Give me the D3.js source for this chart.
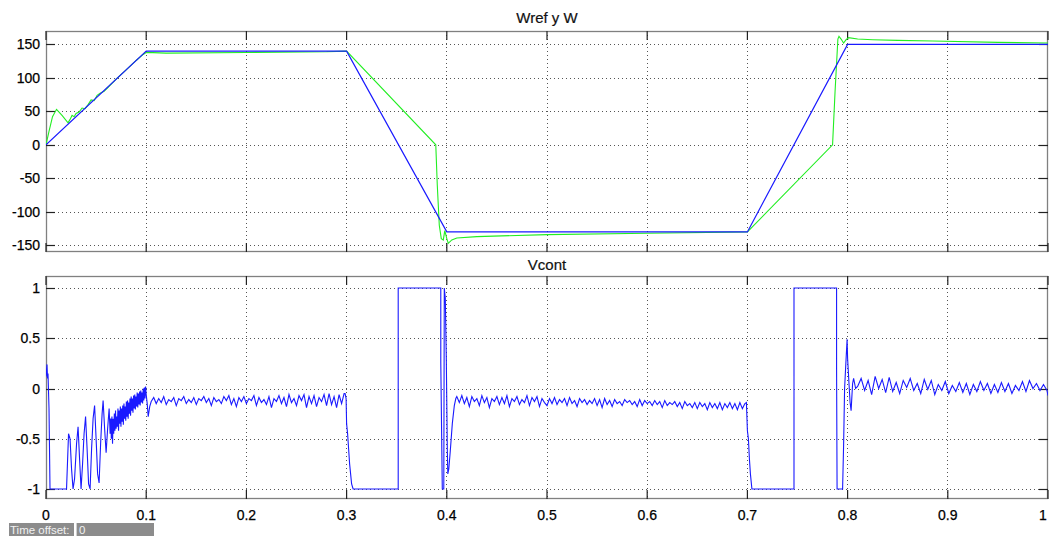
<!DOCTYPE html>
<html>
<head>
<meta charset="utf-8">
<script src="https://cdn.jsdelivr.net/npm/d3@7/dist/d3.min.js"></script>
<style>
  html, body { margin: 0; padding: 0; background: #ffffff; }
  svg { display: block; }
  text { font-family: "Liberation Sans", Arial, sans-serif; }
</style>
</head>
<body>
<svg id="chart" width="1049" height="536"></svg>
<script>
// ---- Speed reference (Wref) and measured speed (W) ----
const wrefPoints = [[0,0],[0.1,140],[0.3,140],[0.4,-130],[0.7,-130],[0.8,150],[1,150]];

const wPoints = [
  [0,0],[0.003,20],[0.0065,42],[0.0105,53],[0.016,44],[0.022,33],[0.024,38],[0.026,44],
  [0.028,42],[0.03,47],[0.033,49],[0.036,55],[0.039,54],[0.042,60],[0.045,67],[0.048,66],
  [0.051,74],[0.054,77],[0.058,80],[0.062,86],[0.07,98],[0.08,112],[0.09,126],[0.097,135],
  [0.1,138],[0.12,137],[0.2,138],[0.28,139],[0.3,140],[0.389,0],[0.3905,-60],[0.3925,-120],
  [0.3945,-140],[0.3965,-142],[0.398,-128],[0.4,-140],[0.4015,-147],[0.405,-142],[0.41,-139],
  [0.43,-137],[0.5,-134],[0.6,-132],[0.7,-130],[0.785,0],[0.7875,80],[0.7903,158],[0.7914,162],
  [0.7935,158],[0.796,152],[0.7985,157],[0.8009,160],[0.81,158],[0.825,157],[0.85,156],
  [0.885,155],[0.95,153],[1,152]
];

// ---- Control voltage (Vcont): start-up and switching intervals as [t, v] pairs ----
const vcontStart = [
  [0,0.12],[0.001,0.24],[0.0015,0.1],[0.002,0.15],[0.003,-0.2],[0.004,-1],[0.0205,-1],
  [0.0225,-0.45],[0.024,-0.5],[0.0255,-0.8],[0.027,-1],[0.0285,-0.9],[0.0305,-0.55],[0.032,-0.38],
  [0.0335,-0.7],[0.035,-1],[0.0365,-0.75],[0.038,-0.45],[0.0395,-0.28],[0.041,-0.6],[0.0425,-0.95],
  [0.044,-1],[0.0455,-0.6],[0.047,-0.3],[0.0485,-0.17],[0.05,-0.5],[0.0515,-0.85],[0.053,-0.94],
  [0.0545,-0.55],[0.056,-0.25],[0.057,-0.12],[0.0585,-0.4],[0.06,-0.64],[0.0615,-0.4],[0.063,-0.2],
  [0.064,-0.45],[0.0646,-0.3],[0.0652,-0.5],[0.0658,-0.28],[0.0664,-0.55],[0.067,-0.3],[0.0676,-0.45],
  [0.0682,-0.25],[0.0688,-0.42],[0.0694,-0.22],[0.07,-0.4],[0.0706,-0.28],[0.0712,-0.38],[0.0718,-0.2],
  [0.0724,-0.42],[0.073,-0.22],[0.0736,-0.35],[0.0742,-0.18],[0.0748,-0.38],[0.0754,-0.2],[0.076,-0.33],
  [0.0766,-0.17],[0.0772,-0.36],[0.0778,-0.15],[0.0784,-0.3],[0.079,-0.18],[0.0796,-0.32],[0.0802,-0.13],
  [0.0808,-0.28],[0.0814,-0.12],[0.082,-0.3],[0.0826,-0.14],[0.0832,-0.25],[0.0838,-0.1],[0.0844,-0.27],
  [0.085,-0.08],[0.0856,-0.22],[0.0862,-0.1],[0.0868,-0.24],[0.0874,-0.07],[0.088,-0.2],[0.0886,-0.06],
  [0.0892,-0.21],[0.0898,-0.08],[0.0904,-0.18],[0.091,-0.04],[0.0916,-0.19],[0.0922,-0.05],[0.0928,-0.16],
  [0.0934,-0.03],[0.094,-0.17],[0.0946,-0.02],[0.0952,-0.14],[0.0958,-0.04],[0.0964,-0.15],[0.097,0],
  [0.0976,-0.12],[0.0982,0.01],[0.0988,-0.1],[0.0994,0.02],[0.1,-0.06],
  [0.101,-0.15],[0.102,-0.28],[0.1035,-0.18]
];

const vcontReverse1 = [
  [0.2985,-0.05],[0.2995,-0.1],[0.3,-0.35],[0.301,-0.45],[0.302,-0.6],[0.303,-0.75],[0.304,-0.85],
  [0.305,-0.95],[0.3065,-1],[0.3515,-1],[0.3515,1],[0.394,1],[0.394,0.26],[0.3955,-1],[0.397,-1],
  [0.3975,1],[0.3985,0.9],[0.3995,0.3],[0.4005,-0.6],[0.401,-0.85],[0.402,-0.8],[0.4035,-0.62],
  [0.4055,-0.35],[0.4075,-0.17],[0.409,-0.1]
];

const vcontReverse2 = [
  [0.699,-0.14],[0.7,-0.42],[0.701,-0.5],[0.702,-0.7],[0.703,-0.85],[0.7045,-1],[0.7465,-1],
  [0.7465,1],[0.789,1],[0.789,0.2],[0.7895,-1],[0.795,-1],[0.796,-0.57],[0.797,0],[0.798,0.2],
  [0.7995,0.49],[0.8,0.3],[0.8015,0.03],[0.8025,-0.14],[0.8035,-0.22],[0.805,0.05],[0.806,0.1],
  [0.808,0]
];

// ---- Vcont steady-state ripple, sampled at a fixed period ----
const rippleA = { t0: 0.105, dt: 0.0025, v: [
  -0.13,-0.09,-0.15,-0.10,-0.14,-0.08,-0.16,-0.11,-0.13,-0.09,
  -0.17,-0.10,-0.12,-0.08,-0.15,-0.11,-0.14,-0.09,-0.16,-0.10,
  -0.12,-0.08,-0.14,-0.10,-0.17,-0.09,-0.13,-0.11,-0.15,-0.08,
  -0.12,-0.07,-0.16,-0.10,-0.18,-0.09,-0.13,-0.08,-0.15,-0.10,
  -0.12,-0.07,-0.17,-0.09,-0.14,-0.11,-0.16,-0.08,-0.19,-0.10,
  -0.13,-0.07,-0.15,-0.09,-0.18,-0.06,-0.14,-0.10,-0.17,-0.07,
  -0.12,-0.06,-0.19,-0.08,-0.15,-0.07,-0.18,-0.09,-0.13,-0.06,
  -0.17,-0.05,-0.16,-0.08,-0.19,-0.06,-0.15,-0.05
]};

const rippleB = { t0: 0.41, dt: 0.0025, v: [
  -0.08,-0.14,-0.07,-0.15,-0.09,-0.18,-0.08,-0.13,-0.10,-0.17,
  -0.07,-0.14,-0.09,-0.19,-0.10,-0.13,-0.08,-0.16,-0.09,-0.15,
  -0.07,-0.18,-0.10,-0.13,-0.08,-0.16,-0.11,-0.14,-0.07,-0.17,
  -0.09,-0.13,-0.08,-0.18,-0.10,-0.14,
  -0.17,-0.10,-0.15,-0.09,-0.16,-0.11,-0.14,-0.10,-0.17,-0.09,
  -0.15,-0.12,-0.18,-0.10,-0.14,-0.11,-0.16,-0.12,-0.15,-0.10,
  -0.17,-0.11,-0.19,-0.10,-0.16,-0.12,-0.18,-0.11,-0.15,-0.13,
  -0.17,-0.11,-0.14,-0.12,-0.16,-0.13,-0.18,-0.11,-0.17,-0.12,
  -0.15,-0.13,-0.17,-0.12,-0.16,-0.13,-0.19,-0.12,-0.17,-0.14,
  -0.16,-0.13,-0.18,-0.14,-0.20,-0.13,-0.17,-0.15,-0.19,-0.14,
  -0.20,-0.14,-0.18,-0.15,-0.21,-0.14,-0.19,-0.15,-0.20,-0.14,
  -0.21,-0.15,-0.19,-0.14,-0.20,-0.15,-0.21,-0.14,-0.20,-0.15
]};

const rippleC = { t0: 0.81, dt: 0.0035, v: [
  0.02,0.10,-0.02,0.08,-0.06,0.12,0.00,0.09,-0.04,0.11,
  -0.03,0.06,-0.05,0.08,0.01,0.10,-0.02,0.05,-0.05,0.09,
  -0.01,0.08,-0.06,0.04,-0.02,0.07,-0.05,0.03,-0.03,0.06,
  -0.04,0.05,-0.06,0.04,-0.03,0.07,-0.02,0.05,-0.05,0.04,
  -0.04,0.06,-0.03,0.05,-0.05,0.03,-0.02,0.07,-0.03,0.08,
  0.00,0.05,-0.02,0.04
]};
const vcontEnd = [[0.999,-0.02],[1,-0.07]];

// ---- Tick labels ----
const timeTicks = [0,0.1,0.2,0.3,0.4,0.5,0.6,0.7,0.8,0.9,1];
const timeTickLabels = ["0","0.1","0.2","0.3","0.4","0.5","0.6","0.7","0.8","0.9","1"];
const speedTicks = [-150,-100,-50,0,50,100,150];
const vcontTicks = [-1,-0.5,0,0.5,1];
const vcontTickLabels = ["-1","-0.5","0","0.5","1"];

// ---- Assemble the Vcont trace in time order ----
function sampled(r) { return r.v.map((v, i) => [r.t0 + i * r.dt, v]); }
const vcontPoints = [].concat(
  vcontStart, sampled(rippleA), vcontReverse1, sampled(rippleB),
  vcontReverse2, sampled(rippleC), vcontEnd
);

// ---- Layout ----
const W = 1049;
const svg = d3.select("#chart");
const left = 46, right = 1048;
const x = d3.scaleLinear().domain([0, 1]).range([left, right]);

const panels = [
  { id: "w", title: "Wref y W", top: 31, bottom: 252, domain: [-160, 170],
    ticks: speedTicks, labels: speedTicks.map(String), titleY: 23 },
  { id: "v", title: "Vcont", top: 276, bottom: 499, domain: [-1.1, 1.12],
    ticks: vcontTicks, labels: vcontTickLabels, titleY: 270 }
];

panels.forEach(p => {
  p.y = d3.scaleLinear().domain(p.domain).range([p.bottom, p.top]);
  const g = svg.append("g");

  // clip region for the traces
  svg.append("clipPath").attr("id", "clip-" + p.id)
    .append("rect").attr("x", left).attr("y", p.top)
    .attr("width", right - left).attr("height", p.bottom - p.top);

  // dotted grid
  g.selectAll(".gx").data(timeTicks.slice(1, -1)).enter().append("line")
    .attr("x1", d => x(d)).attr("x2", d => x(d))
    .attr("y1", p.top).attr("y2", p.bottom)
    .attr("stroke", "#555").attr("stroke-width", 1).attr("stroke-dasharray", "1,3")
    .attr("shape-rendering", "crispEdges");
  g.selectAll(".gy").data(p.ticks).enter().append("line")
    .attr("x1", left).attr("x2", right)
    .attr("y1", d => Math.round(p.y(d)) + 0.5).attr("y2", d => Math.round(p.y(d)) + 0.5)
    .attr("stroke", "#555").attr("stroke-width", 1).attr("stroke-dasharray", "1,3");

  // frame
  g.append("rect").attr("x", left + 0.5).attr("y", p.top + 0.5)
    .attr("width", right - left - 1).attr("height", p.bottom - p.top - 1)
    .attr("fill", "none").attr("stroke", "#808080").attr("stroke-width", 1.3);

  // inward ticks on all four sides
  const tl = 9;
  g.selectAll(".tl").data(p.ticks).enter().append("line")
    .attr("x1", left).attr("x2", left + tl)
    .attr("y1", d => Math.round(p.y(d)) + 0.5).attr("y2", d => Math.round(p.y(d)) + 0.5)
    .attr("stroke", "#222").attr("stroke-width", 1.2);
  g.selectAll(".tr").data(p.ticks).enter().append("line")
    .attr("x1", right - tl).attr("x2", right)
    .attr("y1", d => Math.round(p.y(d)) + 0.5).attr("y2", d => Math.round(p.y(d)) + 0.5)
    .attr("stroke", "#222").attr("stroke-width", 1.2);
  g.selectAll(".tt").data(timeTicks).enter().append("line")
    .attr("x1", d => x(d)).attr("x2", d => x(d))
    .attr("y1", p.top).attr("y2", p.top + tl)
    .attr("stroke", "#222").attr("stroke-width", 1.2);
  g.selectAll(".tb").data(timeTicks).enter().append("line")
    .attr("x1", d => x(d)).attr("x2", d => x(d))
    .attr("y1", p.bottom - tl).attr("y2", p.bottom)
    .attr("stroke", "#222").attr("stroke-width", 1.2);

  // y tick labels
  g.selectAll(".yl").data(p.ticks).enter().append("text")
    .attr("x", 40).attr("y", d => p.y(d) + 5)
    .attr("text-anchor", "end").attr("font-size", 14).attr("fill", "#000")
    .attr("stroke", "#000").attr("stroke-width", 0.25)
    .text((d, i) => p.labels[i]);

  // panel title
  g.append("text").attr("x", (left + right) / 2).attr("y", p.titleY)
    .attr("text-anchor", "middle").attr("font-size", 15).attr("fill", "#111")
    .attr("stroke", "#111").attr("stroke-width", 0.2)
    .text(p.title);
});

// time axis labels under the lower panel; the last one is kept inside the page edge
svg.append("g").selectAll("text").data(timeTicks).enter().append("text")
  .attr("x", d => Math.min(x(d), W - 6)).attr("y", 520)
  .attr("text-anchor", "middle").attr("font-size", 14).attr("fill", "#000")
  .attr("stroke", "#000").attr("stroke-width", 0.25)
  .text((d, i) => timeTickLabels[i]);

// ---- Traces ----
const pw = panels[0], pv = panels[1];
const lineW = d3.line().x(d => x(d[0])).y(d => pw.y(d[1]));
const lineV = d3.line().x(d => x(d[0])).y(d => pv.y(d[1]));

svg.append("path").datum(wPoints).attr("d", lineW)
  .attr("clip-path", "url(#clip-w)")
  .attr("fill", "none").attr("stroke", "#22ee22").attr("stroke-width", 1.1);
svg.append("path").datum(wrefPoints).attr("d", lineW)
  .attr("clip-path", "url(#clip-w)")
  .attr("fill", "none").attr("stroke", "#1a1aff").attr("stroke-width", 1.2);
svg.append("path").datum(vcontPoints).attr("d", lineV)
  .attr("clip-path", "url(#clip-v)")
  .attr("fill", "none").attr("stroke", "#1a1aff").attr("stroke-width", 1.1);

// ---- Time offset readout ----
const ro = svg.append("g");
ro.append("rect").attr("x", 9).attr("y", 523).attr("width", 65).attr("height", 13).attr("fill", "#8c8c8c");
ro.append("rect").attr("x", 76).attr("y", 523).attr("width", 78).attr("height", 13).attr("fill", "#8c8c8c");
ro.append("line").attr("x1", 76.5).attr("x2", 76.5).attr("y1", 523).attr("y2", 536).attr("stroke", "#d0d0d0");
ro.append("text").attr("x", 10).attr("y", 533.5).attr("font-size", 11.5).attr("fill", "#f2f2f2").text("Time offset:");
ro.append("text").attr("x", 79).attr("y", 533.5).attr("font-size", 11.5).attr("fill", "#f2f2f2").text("0");
</script>
</body>
</html>
